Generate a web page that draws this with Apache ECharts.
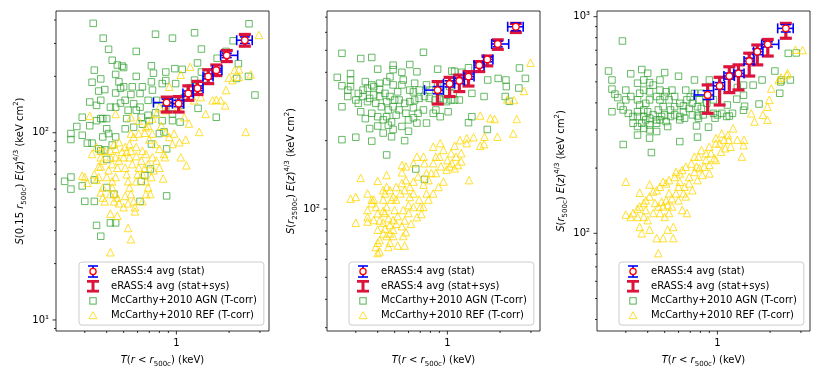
<!DOCTYPE html>
<html>
<head>
<meta charset="utf-8">
<script src="https://cdn.jsdelivr.net/npm/echarts@6/dist/echarts.min.js"></script>
<style>
html, body { margin: 0; padding: 0; background: #fff; }
#chart { width: 822px; height: 377px; }
</style>
</head>
<body>
<div id="chart"></div>
<script>
// eRASS:4 temperature bins (keV), same for every panel
const tMid = [0.88, 1.03, 1.17, 1.32, 1.52, 1.69, 1.94, 2.46];
const tLo = [0.74, 0.95, 1.09, 1.24, 1.42, 1.61, 1.79, 2.21];
const tHi = [0.95, 1.10, 1.25, 1.42, 1.62, 1.82, 2.24, 2.71];

// panel 1: S(0.15 r500c)
const s1 = [145, 143, 162, 173, 200, 216, 259, 312];
const s1StatLo = [139, 138, 157, 168, 194, 211, 252, 300];
const s1StatHi = [151, 149, 167, 178, 206, 221, 266, 325];
const s1SysLo = [129, 129, 149, 160, 183, 202, 240, 290];
const s1SysHi = [155, 156, 178, 188, 217, 230, 275, 335];

// panel 2: S(r2500c)
const s2 = [334, 356, 367, 383, 430, 456, 533, 635];
const s2StatLo = [322, 345, 357, 373, 420, 445, 518, 610];
const s2StatHi = [346, 367, 377, 393, 440, 467, 548, 660];
const s2SysLo = [290, 313, 329, 348, 403, 427, 505, 599];
const s2SysHi = [364, 380, 389, 403, 446, 472, 556, 657];

// panel 3: S(r500c)
const s3 = [435, 479, 532, 547, 624, 689, 745, 883];
const s3StatLo = [415, 462, 515, 530, 605, 668, 725, 850];
const s3StatHi = [455, 496, 549, 564, 643, 710, 765, 918];
const s3SysLo = [358, 391, 446, 459, 532, 599, 658, 795];
const s3SysHi = [484, 525, 587, 599, 678, 740, 785, 931];

// McCarthy+2010 simulated groups [T, S]
const agn1 = [[0.335,384],[0.382,320],[0.41,279],[0.76,336],[0.95,320],[1.27,342],[1.39,280],[2.6,382],[0.59,272],[2.11,310],[1.92,272],[1.71,250],[1.32,236],[0.34,216],[0.33,186],[0.37,194],[0.39,170],[0.36,167],[0.46,230],[0.49,227],[0.50,223],[0.45,205],[0.59,200],[0.72,228],[0.74,208],[0.87,211],[0.98,220],[1.08,218],[1.39,211],[1.27,191],[2.26,234],[2.21,195],[2.58,200],[2.81,159],[1.69,121],[1.33,135],[1.13,155],[1.2,155],[0.95,149],[0.87,137],[0.76,128],[0.70,116],[0.64,111],[0.57,107],[0.51,105],[0.43,86],[0.40,105],[0.41,99],[0.38,95],[0.37,119],[0.38,119],[0.40,119],[0.35,116],[0.29,121],[0.32,109],[0.27,108],[0.25,99],[0.25,92],[0.29,97],[0.31,88],[0.33,88],[0.36,82],[0.39,81],[0.40,72],[0.45,163],[0.48,173],[0.55,160],[0.51,149],[0.57,143],[0.62,137],[0.45,137],[0.48,144],[0.35,140],[0.83,116],[0.85,101],[0.88,82],[0.95,116],[1.05,114],[1.11,154],[0.72,87],[0.71,64],[0.66,59],[0.63,55],[0.23,55],[0.25,58],[0.25,50],[0.29,52],[0.34,56],[0.40,51],[0.44,47],[0.30,43],[0.34,43],[0.62,43],[0.88,46],[0.35,32],[0.37,28],[0.42,33],[0.45,33],[0.83,183],[0.72,187],[0.87,190],[0.73,169],[0.62,162],[0.47,187],[0.56,176],[0.64,176],[0.69,149],[0.99,183],[0.77,149],[0.59,132],[0.53,132],[0.69,124],[0.63,121],[0.80,99],[0.37,80],[0.45,95],[0.52,119],[0.95,126],[1.35,183],[1.47,194],[1.61,211],[1.2,174],[1.06,140],[0.43,244],[0.50,176],[0.42,137],[0.37,149],[0.32,146]];
const ref1 = [[2.96,333],[2.66,205],[2.15,216],[2.28,199],[2.0,197],[1.92,169],[1.61,149],[1.79,149],[1.9,140],[2.49,101],[1.35,101],[1.47,126],[1.38,155],[1.2,225],[1.06,204],[0.91,176],[0.93,149],[1.02,137],[1.11,121],[1.18,112],[1.13,92],[1.04,89],[0.95,87],[1.06,74],[1.14,67],[0.84,57],[0.32,123],[0.45,126],[0.55,121],[0.61,116],[0.67,107],[0.73,119],[0.77,126],[0.80,137],[0.87,132],[0.55,99],[0.57,95],[0.61,99],[0.66,100],[0.70,92],[0.76,87],[0.80,82],[0.85,77],[0.86,74],[0.73,74],[0.67,77],[0.59,84],[0.54,87],[0.47,89],[0.44,87],[0.42,80],[0.37,80],[0.37,74],[0.38,71],[0.36,66],[0.34,60],[0.35,56],[0.30,58],[0.31,54],[0.37,48],[0.38,45],[0.39,43],[0.42,47],[0.43,51],[0.45,58],[0.46,65],[0.47,71],[0.50,74],[0.51,65],[0.52,60],[0.53,55],[0.54,51],[0.55,47],[0.57,43],[0.58,40],[0.59,55],[0.60,60],[0.61,65],[0.63,71],[0.64,60],[0.66,65],[0.67,55],[0.69,51],[0.71,47],[0.56,68],[0.54,74],[0.52,79],[0.49,79],[0.45,74],[0.43,68],[0.41,63],[0.40,58],[0.43,55],[0.44,43],[0.47,42],[0.50,40],[0.53,42],[0.51,46],[0.46,45],[0.42,37],[0.53,31],[0.55,27],[0.42,23],[0.46,36],[0.58,38],[0.45,47],[0.59,75],[0.55,80],[0.51,84],[0.77,71],[0.80,65],[0.74,63],[0.72,58],[0.69,68],[0.64,80],[0.45,82],[0.42,74],[0.39,80],[0.37,66],[0.33,77],[0.35,84],[0.29,59],[0.36,58],[0.38,51],[0.67,47],[0.64,43],[0.73,99],[0.69,109],[0.82,109],[0.87,100],[0.91,95],[0.97,99],[1.26,149],[1.35,167],[1.69,150],[2.28,218],[2.09,191]];
const agn2 = [[0.25,485],[0.32,460],[0.37,465],[0.28,395],[0.28,370],[0.235,380],[0.25,349],[0.27,313],[0.25,282],[0.32,268],[0.34,250],[0.25,202],[0.30,207],[0.36,226],[0.37,199],[0.40,413],[0.49,430],[0.49,411],[0.55,400],[0.61,433],[0.67,402],[0.73,490],[0.88,413],[1.06,405],[1.21,400],[1.32,419],[1.70,370],[1.95,376],[2.16,370],[2.58,418],[2.79,376],[2.56,341],[2.17,346],[2.14,313],[2.26,298],[1.62,313],[1.38,323],[1.38,255],[1.32,240],[1.69,224],[1.01,268],[0.91,255],[0.83,264],[0.73,273],[0.76,239],[0.67,239],[0.60,220],[0.57,200],[0.49,224],[0.48,208],[0.45,173],[0.43,216],[0.40,232],[0.66,150],[0.74,135],[0.46,234],[0.43,247],[0.40,255],[0.37,264],[0.35,297],[0.33,313],[0.33,334],[0.35,340],[0.38,346],[0.41,337],[0.44,323],[0.47,313],[0.50,302],[0.53,302],[0.57,292],[0.61,297],[0.65,302],[0.69,307],[0.74,313],[0.79,307],[0.85,302],[0.90,307],[0.95,302],[0.99,297],[1.05,302],[1.10,302],[1.17,302],[0.90,328],[0.79,334],[0.69,334],[0.61,334],[0.55,352],[0.49,352],[0.45,364],[0.41,358],[0.37,352],[0.34,364],[0.38,318],[0.41,313],[0.45,297],[0.49,282],[0.53,273],[0.58,264],[0.64,279],[0.68,264],[0.51,259],[0.46,273],[0.42,282],[0.39,292],[0.36,307],[0.47,382],[0.56,370],[0.65,358],[0.52,328],[0.64,328],[0.76,352],[0.88,352],[1.03,346],[1.08,323],[1.10,404],[1.28,364],[0.45,255],[0.48,242],[0.55,231],[0.60,247],[0.64,252],[0.86,273],[0.28,346],[0.27,334],[0.31,323],[0.30,302],[0.31,292]];
const ref2 = [[2.98,441],[2.74,331],[2.40,302],[2.49,249],[2.38,215],[2.20,304],[1.93,208],[1.86,249],[1.76,251],[1.54,258],[1.63,208],[1.62,193],[1.41,207],[1.29,205],[1.33,134],[1.10,190],[1.05,176],[1.06,159],[0.91,195],[0.95,182],[0.83,159],[0.81,144],[0.74,159],[0.73,170],[0.76,144],[0.67,170],[0.64,159],[0.58,154],[0.55,156],[0.55,145],[0.45,141],[0.40,133],[0.32,137],[0.28,111],[0.30,113],[0.35,117],[0.37,110],[0.39,102],[0.40,95.7],[0.38,89.4],[0.35,88],[0.30,87],[0.35,99],[0.37,106],[0.43,110],[0.44,117],[0.47,121],[0.49,113],[0.51,110],[0.54,117],[0.57,121],[0.61,125],[0.64,132],[0.68,139],[0.73,128],[0.78,134],[0.86,144],[0.92,154],[0.99,149],[1.03,154],[1.10,151],[1.15,156],[1.20,162],[0.95,132],[0.89,125],[0.83,117],[0.78,110],[0.73,102],[0.76,117],[0.69,110],[0.64,102],[0.60,104],[0.56,99],[0.52,93],[0.49,89.4],[0.47,85],[0.44,82],[0.43,78],[0.41,73],[0.40,71],[0.41,65],[0.47,71],[0.49,76],[0.52,69],[0.56,76],[0.58,79],[0.62,86],[0.67,92],[0.71,95],[0.70,102],[0.50,99],[0.45,102],[0.44,96],[0.41,89],[0.46,91],[0.51,86],[0.55,84],[0.57,89],[0.60,96],[0.47,78],[0.45,76],[0.49,81],[0.43,87],[0.43,98],[0.40,81],[0.35,92],[0.38,110],[0.51,125],[0.55,130],[0.58,134],[0.61,113],[0.64,117],[0.48,110],[0.45,125],[0.43,121],[0.39,68],[0.57,69],[0.46,68],[0.40,64],[0.86,170],[0.83,188],[0.90,170],[1.00,164],[1.12,170],[1.20,176],[1.29,195],[1.18,201],[1.54,190]];
const agn3 = [[0.287,772],[0.239,561],[0.25,510],[0.25,463],[0.26,439],[0.27,423],[0.25,364],[0.32,545],[0.37,570],[0.40,548],[0.50,552],[0.74,510],[0.60,531],[0.55,458],[0.47,510],[0.43,483],[0.41,496],[0.35,493],[0.38,510],[0.29,257],[0.42,236],[0.35,284],[0.41,275],[0.61,265],[0.61,334],[0.77,278],[0.76,313],[0.90,510],[0.89,309],[0.77,348],[0.64,387],[0.67,413],[0.70,426],[1.13,346],[1.17,348],[1.29,416],[1.41,370],[1.43,386],[1.30,471],[1.41,434],[1.73,395],[1.60,483],[1.80,510],[2.13,561],[2.27,443],[2.30,500],[2.32,510],[2.61,510],[2.54,677],[2.82,680],[1.41,483],[1.22,358],[1.06,358],[0.97,340],[0.95,358],[0.87,398],[0.81,377],[0.77,384],[0.72,398],[0.69,377],[0.64,364],[0.61,398],[0.57,384],[0.54,371],[0.50,352],[0.47,334],[0.45,322],[0.41,316],[0.39,334],[0.37,322],[0.35,311],[0.33,322],[0.31,358],[0.29,371],[0.28,386],[0.30,413],[0.32,428],[0.35,413],[0.36,391],[0.39,398],[0.41,413],[0.45,428],[0.47,413],[0.50,428],[0.53,413],[0.57,428],[0.49,384],[0.46,371],[0.43,352],[0.40,364],[0.38,371],[0.35,364],[0.33,346],[0.35,346],[0.38,346],[0.41,340],[0.45,334],[0.48,346],[0.51,328],[0.54,346],[0.57,352],[0.61,346],[0.65,340],[0.72,352],[0.78,340],[0.83,352],[0.79,413],[0.74,443],[0.51,450],[0.47,458],[0.41,450],[0.38,458],[0.36,443],[0.52,311],[0.41,300],[0.38,305],[0.45,295],[0.66,458],[0.81,443],[0.95,413],[1.00,352],[1.14,391],[0.30,458]];
const ref3 = [[3.07,701],[2.79,704],[2.49,538],[2.52,548],[2.24,510],[2.31,524],[2.03,466],[1.98,413],[1.93,384],[1.82,352],[1.63,328],[1.56,358],[1.93,334],[1.42,270],[1.41,255],[1.38,226],[1.23,305],[1.15,284],[1.06,289],[1.16,270],[1.09,270],[0.98,275],[0.98,260],[1.03,260],[0.90,251],[0.92,234],[0.86,234],[0.81,242],[0.78,226],[0.86,218],[0.74,226],[0.76,203],[0.71,210],[0.66,203],[0.63,196],[0.61,189],[0.58,192],[0.57,182],[0.53,176],[0.51,170],[0.49,173],[0.47,164],[0.45,158],[0.43,156],[0.41,148],[0.39,142],[0.38,138],[0.36,133],[0.35,130],[0.33,124],[0.30,173],[0.36,154],[0.41,168],[0.60,164],[0.61,173],[0.69,182],[0.74,192],[0.79,200],[0.84,203],[0.90,207],[0.96,222],[1.05,238],[1.11,247],[1.19,251],[1.30,270],[0.90,189],[0.82,186],[0.77,176],[0.69,170],[0.65,164],[0.64,153],[0.58,153],[0.55,145],[0.53,153],[0.51,142],[0.48,140],[0.46,133],[0.44,138],[0.49,133],[0.52,135],[0.55,133],[0.60,142],[0.66,148],[0.67,124],[0.53,124],[0.50,119],[0.47,124],[0.43,124],[0.40,115],[0.38,119],[0.36,107],[0.37,100],[0.35,119],[0.32,119],[0.30,122],[0.41,104],[0.45,95],[0.49,95],[0.52,104],[0.56,95],[0.46,81],[0.56,107],[0.63,128],[0.72,158],[0.98,218],[0.39,128]];

// ticks
const xMajor = [1];
const xMinor = [0.3, 0.4, 0.5, 0.6, 0.7, 0.8, 0.9, 2, 3];
const yMajor1 = [10, 100];
const yMinor1 = [9, 20, 30, 40, 50, 60, 70, 80, 90, 200, 300, 400];
const yMajor2 = [100];
const yMinor2 = [30, 40, 50, 60, 70, 80, 90, 200, 300, 400, 500, 600, 700];
const yMajor3 = [100, 1000];
const yMinor3 = [40, 50, 60, 70, 80, 90, 200, 300, 400, 500, 600, 700, 800, 900];
const tickLabels = { 1: '1', 10: '10¹', 100: '10²', 1000: '10³' };

const legendNames = ['eRASS:4 avg (stat)', 'eRASS:4 avg (stat+sys)', 'McCarthy+2010 AGN (T-corr)', 'McCarthy+2010 REF (T-corr)'];

const FONT = 'DejaVu Sans';
const X_MIN = 0.2054, X_MAX = 3.38;
const Y_RANGE = [[8.73, 447], [29.0, 745], [35.4, 1062]];
const GRID_LEFT = [56, 327, 597];
const LEGEND_LEFT = [79, 349, 619];

const panels = [
  { s: s1, sl: s1StatLo, sh: s1StatHi, yl: s1SysLo, yh: s1SysHi, agn: agn1, ref: ref1, major: yMajor1, minor: yMinor1,
    name: '{i|S}(0.15 {i|r}{sub|500c}) {i|E}({i|z}){sup|4/3} (keV cm{sup|2})' },
  { s: s2, sl: s2StatLo, sh: s2StatHi, yl: s2SysLo, yh: s2SysHi, agn: agn2, ref: ref2, major: yMajor2, minor: yMinor2,
    name: '{i|S}({i|r}{sub|2500c}) {i|E}({i|z}){sup|4/3} (keV cm{sup|2})' },
  { s: s3, sl: s3StatLo, sh: s3StatHi, yl: s3SysLo, yh: s3SysHi, agn: agn3, ref: ref3, major: yMajor3, minor: yMinor3,
    name: '{i|S}({i|r}{sub|500c}) {i|E}({i|z}){sup|4/3} (keV cm{sup|2})' }
];

const richText = {
  i: { fontStyle: 'italic', fontFamily: FONT, fontSize: 10, lineHeight: 15, color: '#000' },
  sub: { fontFamily: FONT, fontSize: 7, lineHeight: 9, verticalAlign: 'bottom', color: '#000' },
  sup: { fontFamily: FONT, fontSize: 7, lineHeight: 9, verticalAlign: 'top', color: '#000' }
};

function svgIcon(svg) {
  return 'image://data:image/svg+xml;charset=utf-8,' + encodeURIComponent(svg);
}
const icons = [
  svgIcon('<svg xmlns="http://www.w3.org/2000/svg" width="20" height="13" viewBox="0 0 20 13"><g stroke="#0000ff" stroke-width="1.6"><line x1="10" y1="1" x2="10" y2="12"/><line x1="5" y1="1" x2="15" y2="1"/><line x1="5" y1="12" x2="15" y2="12"/></g><circle cx="10" cy="6.5" r="3.1" fill="#fff" stroke="#ff0000" stroke-width="1.3"/></svg>'),
  svgIcon('<svg xmlns="http://www.w3.org/2000/svg" width="20" height="13" viewBox="0 0 20 13"><g stroke="#dc143c" stroke-width="3"><line x1="10" y1="1.5" x2="10" y2="11.5"/><line x1="4" y1="1.5" x2="16" y2="1.5"/><line x1="4" y1="11.5" x2="16" y2="11.5"/></g></svg>'),
  svgIcon('<svg xmlns="http://www.w3.org/2000/svg" width="20" height="13" viewBox="0 0 20 13"><rect x="6.8" y="3.3" width="6.4" height="6.4" fill="none" stroke="#2ca02c" stroke-width="1"/></svg>'),
  svgIcon('<svg xmlns="http://www.w3.org/2000/svg" width="20" height="13" viewBox="0 0 20 13"><polygon points="10,2.6 14,9.6 6,9.6" fill="none" stroke="#ffd700" stroke-width="1"/></svg>')
];

function line(x1, y1, x2, y2, style) {
  return { type: 'line', shape: { x1, y1, x2, y2 }, style };
}

// red stat+sys error bars
function sysItem(params, api) {
  const c = api.coord([api.value(0), api.value(3)]);
  const ya = api.coord([api.value(0), api.value(6)])[1];
  const yb = api.coord([api.value(0), api.value(7)])[1];
  const st = { stroke: '#dc143c', lineWidth: 3.2 };
  return { type: 'group', children: [
    line(c[0], ya, c[0], yb, st),
    line(c[0] - 6, ya, c[0] + 6, ya, st),
    line(c[0] - 6, yb, c[0] + 6, yb, st)
  ] };
}

// blue stat error bars with the open red circle
function statItem(params, api) {
  const c = api.coord([api.value(0), api.value(3)]);
  const xl = api.coord([api.value(1), api.value(3)])[0];
  const xh = api.coord([api.value(2), api.value(3)])[0];
  const ya = api.coord([api.value(0), api.value(4)])[1];
  const yb = api.coord([api.value(0), api.value(5)])[1];
  const st = { stroke: '#0000ff', lineWidth: 1.6 };
  return { type: 'group', children: [
    line(xl, c[1], xh, c[1], st),
    line(xl, c[1] - 5, xl, c[1] + 5, st),
    line(xh, c[1] - 5, xh, c[1] + 5, st),
    line(c[0], ya, c[0], yb, st),
    line(c[0] - 5, ya, c[0] + 5, ya, st),
    line(c[0] - 5, yb, c[0] + 5, yb, st),
    { type: 'circle', shape: { cx: c[0], cy: c[1], r: 3.3 }, style: { fill: '#fff', stroke: '#ff0000', lineWidth: 1.3 } }
  ] };
}

// axis ticks drawn outside the frame
function tickSeries(gi, vals, dir, len) {
  const yMin = Y_RANGE[gi][0];
  return {
    type: 'custom', xAxisIndex: gi, yAxisIndex: gi, silent: true, z: 5,
    data: vals.map(v => dir === 'x' ? [v, yMin] : [X_MIN, v]),
    renderItem(params, api) {
      const p = api.coord([api.value(0), api.value(1)]);
      const st = { stroke: '#000', lineWidth: 0.8 };
      return dir === 'x' ? line(p[0], p[1], p[0], p[1] + len, st) : line(p[0], p[1], p[0] - len, p[1], st);
    }
  };
}

function labelFmt(v) {
  const e = Math.log10(v), r = Math.round(e);
  if (Math.abs(e - r) > 1e-6) return '';
  return tickLabels[Math.pow(10, r)] || '';
}

const grid = [], xAxis = [], yAxis = [], legend = [], series = [];
panels.forEach((p, i) => {
  grid.push({ left: GRID_LEFT[i], top: 11, width: 213, height: 320, show: true, borderColor: '#000', borderWidth: 0.8,
    outerBoundsMode: 'none', containLabel: false });
  xAxis.push({
    type: 'log', gridIndex: i, min: X_MIN, max: X_MAX,
    axisLine: { show: false }, axisTick: { show: false }, splitLine: { show: false },
    axisLabel: { formatter: labelFmt, margin: 7, fontSize: 10, fontFamily: FONT, color: '#000', showMinLabel: false, showMaxLabel: false },
    name: '{i|T}({i|r} < {i|r}{sub|500c}) (keV)', nameLocation: 'middle', nameGap: 20,
    nameTextStyle: { fontFamily: FONT, fontSize: 10, lineHeight: 15, color: '#000', rich: richText }
  });
  yAxis.push({
    type: 'log', gridIndex: i, min: Y_RANGE[i][0], max: Y_RANGE[i][1],
    axisLine: { show: false }, axisTick: { show: false }, splitLine: { show: false },
    axisLabel: { formatter: labelFmt, margin: 7, fontSize: 10, fontFamily: FONT, color: '#000', showMinLabel: false, showMaxLabel: false },
    name: p.name, nameLocation: 'middle', nameGap: 28, nameRotate: 90,
    nameTextStyle: { fontFamily: FONT, fontSize: 10, lineHeight: 15, color: '#000', rich: richText }
  });
  legend.push({
    left: LEGEND_LEFT[i], top: 262, orient: 'vertical', selectedMode: false,
    itemWidth: 20, itemHeight: 13, itemGap: 1.7, padding: [3, 7, 3, 4],
    backgroundColor: 'rgba(255,255,255,0.8)', borderColor: '#cccccc', borderWidth: 1, borderRadius: 3,
    textStyle: { fontSize: 10, fontFamily: FONT, color: '#000', padding: [0, 0, 0, 3] },
    data: legendNames.map((n, k) => ({ name: n, icon: icons[k] }))
  });
  const erass = tMid.map((t, k) => [t, tLo[k], tHi[k], p.s[k], p.sl[k], p.sh[k], p.yl[k], p.yh[k]]);
  series.push(
    { type: 'scatter', name: legendNames[2], xAxisIndex: i, yAxisIndex: i, data: p.agn, symbol: 'rect', symbolSize: 6.5,
      itemStyle: { color: 'rgba(0,0,0,0)', borderColor: 'rgba(44,160,44,0.9)', borderWidth: 1 } },
    { type: 'scatter', name: legendNames[3], xAxisIndex: i, yAxisIndex: i, data: p.ref, symbol: 'triangle', symbolSize: 7.5,
      itemStyle: { color: 'rgba(0,0,0,0)', borderColor: '#ffd700', borderWidth: 1 } },
    { type: 'custom', name: legendNames[1], xAxisIndex: i, yAxisIndex: i, data: erass, renderItem: sysItem,
      encode: { x: 0, y: 3 }, z: 3 },
    { type: 'custom', name: legendNames[0], xAxisIndex: i, yAxisIndex: i, data: erass, renderItem: statItem,
      encode: { x: 0, y: 3 }, z: 3 },
    tickSeries(i, xMajor, 'x', 3.5),
    tickSeries(i, xMinor, 'x', 2),
    tickSeries(i, p.major, 'y', 3.5),
    tickSeries(i, p.minor, 'y', 2)
  );
});

const chart = echarts.init(document.getElementById('chart'));
chart.setOption({
  animation: false,
  backgroundColor: '#fff',
  textStyle: { fontFamily: FONT },
  grid, xAxis, yAxis, legend, series
});
</script>
</body>
</html>
